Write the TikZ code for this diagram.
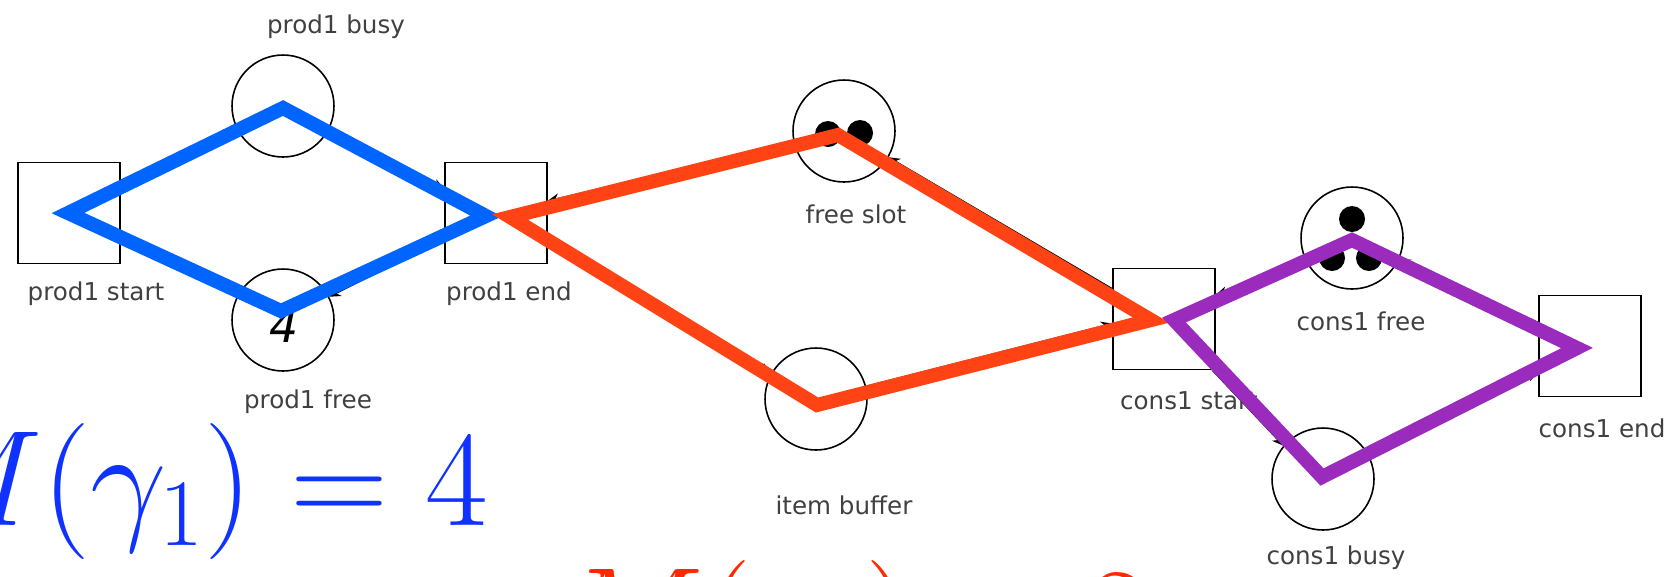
\RequirePackage{fix-cm}
\documentclass[tikz,border=0pt]{standalone}
\usepackage{fontspec}
\usepackage{amsmath}
\usetikzlibrary{calc}
\usetikzlibrary{arrows.meta}
\usetikzlibrary{positioning}

\newfontfamily\netfont{DejaVu Sans}

\definecolor{cycblue}{RGB}{0,100,255}
\definecolor{cycred}{RGB}{255,67,20}
\definecolor{cycpurple}{RGB}{155,43,189}
\definecolor{markblue}{RGB}{15,50,255}
\definecolor{markred}{RGB}{255,40,0}

\tikzset{
	place/.style = {circle, draw, line width=0.9pt, minimum size=2.04cm, inner sep=0pt},
	trans/.style = {rectangle, draw, line width=0.9pt, minimum width=2.04cm, minimum height=2.02cm, inner sep=0pt},
	token/.style = {circle, fill=black, minimum size=0.52cm, inner sep=0pt},
	lbl/.style = {font=\netfont\fontsize{14}{16}\selectfont, text=black!75, inner sep=0pt},
	flow/.style = {line width=0.7pt, -{Stealth[length=6.5pt, width=5.5pt]}},
	invariant/.style = {line width=8pt, line join=miter},
	bigmath/.style = {font=\fontsize{77.5}{85}\selectfont, inner sep=0pt, anchor=base east},
}

\begin{document}
\begin{tikzpicture}[x=0.02cm, y=-0.02cm]
	\useasboundingbox (0,0) rectangle (1676,576);

	% Transitions
	\node[trans] (start) at (69,213) {};
	\node[trans] (end) at (496,213) {};
	\node[trans] (cstart) at (1164,319) {};
	\node[trans] (cend) at (1590,346) {};

	% Places
	\node[place] (busy) at (283,106) {};
	\node[place] (pfree) at (283,320) {};
	\node[place] (slot) at (844,131) {};
	\node[place] (buffer) at (816,399) {};
	\node[place] (cfree) at (1352,238) {};
	\node[place] (cbusy) at (1323,479) {};

	% Tokens
	\node[font=\netfont\itshape\fontsize{26}{28}\selectfont, inner sep=0pt] (pfreetok) at ($(pfree)+(1,6)$) {4};
	\node[token] (slottok1) at ($(slot)+(-16,3)$) {};
	\node[token] (slottok2) at ($(slot)+(16,2)$) {};
	\node[token] (cfreetok1) at ($(cfree)+(0,-19)$) {};
	\node[token] (cfreetok2) at ($(cfree)+(-20,20)$) {};
	\node[token] (cfreetok3) at ($(cfree)+(17,20)$) {};

	% Labels
	\node[lbl] (busylabel) at (336,27) {prod1 busy};
	\node[lbl] (startlabel) at (96,294) {prod1 start};
	\node[lbl] (endlabel) at (509,294) {prod1 end};
	\node[lbl] (pfreelabel) at (308,402) {prod1 free};
	\node[lbl] (slotlabel) at (856,214) {free slot};
	\node[lbl] (bufferlabel) at (844,505) {item buffer};
	\node[lbl] (cfreelabel) at (1361,321) {cons1 free};
	\node[lbl] (cstartlabel) at (1189,401) {cons1 start};
	\node[lbl] (cendlabel) at (1602,428) {cons1 end};
	\node[lbl] (cbusylabel) at (1336,558) {cons1 busy};

	% Arcs
	\draw[flow] (start) to (busy);
	\draw[flow] (busy) to (end.155);
	\draw[flow] (end) to (pfree);
	\draw[flow] (pfree) to (start);
	\draw[flow] (slot) to (end);
	\draw[flow] (end) to (buffer);
	\draw[flow] (buffer) to (cstart.185);
	\draw[flow] (cstart) to (slot);
	\draw[flow] (cfree.210) to (cstart.25);
	\draw[flow] (cstart) to (cbusy.140);
	\draw[flow] (cbusy) to (cend);
	\draw[flow] (cend) to (cfree);

	% Invariants
	\draw[invariant, cycblue] ($(start.center)+(-1,0)$) -- ($(busy.center)+(0,2)$) -- ($(end.center)+(-10,3)$) -- ($(pfree.center)+(-2,-9)$) -- cycle;
	\draw[invariant, cycred] ($(end.center)+(14,4)$) -- ($(slot.center)+(-6,4)$) -- ($(cstart.center)+(-13,1)$) -- ($(buffer.center)+(1,6)$) -- cycle;
	\draw[invariant, cycpurple] ($(cstart.center)+(10,1)$) -- ($(cfree.center)+(0,2)$) -- ($(cend.center)+(-13,2)$) -- ($(cbusy.center)+(-1,-2)$) -- cycle;

	% Markings
	\node[bigmath, text=markblue] (gammaone) at (489,525) {$M(\gamma_1) = 4$};
	\node[bigmath, text=markred] (gammatwo) at (1150,662) {$M(\gamma_2) = 2$};
\end{tikzpicture}
\end{document}
